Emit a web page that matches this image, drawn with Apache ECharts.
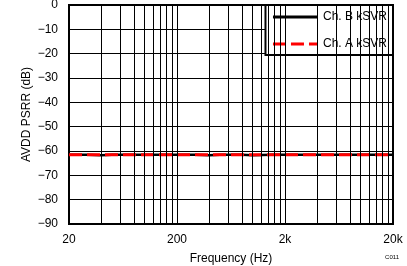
<!DOCTYPE html>
<html><head><meta charset="utf-8">
<script src="https://cdn.jsdelivr.net/npm/echarts@6/dist/echarts.min.js"></script>
<style>html,body{margin:0;padding:0;background:#fff}#c{width:407px;height:266px}</style>
</head><body><div id="c"></div>
<script>
var freqs = [20, 30, 40, 50, 60, 80, 100, 150, 200, 300, 400, 500, 600, 800, 1000, 1500, 2000, 3000, 4000, 5000, 6000, 8000, 10000, 15000, 20000];
var chB = [-61.5, -61.5, -61.7, -61.5, -61.5, -61.5, -61.5, -61.5, -61.5, -61.5, -61.7, -61.5, -61.5, -61.5, -61.7, -61.5, -61.5, -61.5, -61.5, -61.5, -61.5, -61.5, -61.5, -61.5, -61.5];
var chA = [-61.5, -61.5, -61.5, -61.5, -61.5, -61.5, -61.5, -61.5, -61.5, -61.5, -61.5, -61.5, -61.5, -61.5, -61.5, -61.5, -61.5, -61.5, -61.5, -61.5, -61.5, -61.5, -61.5, -61.5, -61.5];
var xTicks = [20, 200, 2000, 20000];
var xTickLabels = ['20', '200', '2k', '20k'];
var gridFreqs = [40, 60, 80, 100, 120, 140, 160, 180, 200, 400, 600, 800, 1000, 1200, 1400, 1600, 1800, 2000, 4000, 6000, 8000, 10000, 12000, 14000, 16000, 18000];
var seriesNames = ['Ch. B kSVR', 'Ch. A kSVR'];

var font = 'Liberation Sans, Arial, sans-serif';
var chart = echarts.init(document.getElementById('c'));
function pairs(vals){ return freqs.map(function(f,i){ return [f, vals[i]]; }); }
chart.setOption({
  animation: false,
  grid: {left: 69, right: 14, top: 5, bottom: 42, show: true, borderColor: '#000', borderWidth: 2,
    backgroundColor: 'transparent', outerBoundsMode: 'none', containLabel: false},
  xAxis: {
    type: 'log', logBase: 10, min: 20, max: 20000,
    name: 'Frequency (Hz)', nameLocation: 'middle', nameGap: 29, nameMoveOverlap: false,
    nameTextStyle: {fontFamily: font, fontSize: 12, color: '#000'},
    axisLine: {show: false}, axisTick: {show: false}, splitLine: {show: false},
    axisLabel: {
      customValues: xTicks, fontFamily: font, fontSize: 12, color: '#000', margin: 10,
      formatter: function(v){ var i = xTicks.indexOf(Math.round(v)); return i >= 0 ? xTickLabels[i] : ''; }
    }
  },
  yAxis: {
    type: 'value', min: -90, max: 0, interval: 10,
    name: 'AVDD PSRR (dB)', nameLocation: 'middle', nameGap: 36, nameMoveOverlap: false,
    nameTextStyle: {fontFamily: font, fontSize: 12, color: '#000'},
    axisLine: {show: false}, axisTick: {show: false},
    splitLine: {show: true, lineStyle: {color: '#000', width: 1}},
    axisLabel: {fontFamily: font, fontSize: 12, color: '#000', margin: 11,
      formatter: function(v){ return String(v).replace('-', '\u2212'); }}
  },
  legend: {
    orient: 'vertical', right: 14, top: 5,
    backgroundColor: '#fff', borderColor: '#000', borderWidth: 2, borderRadius: 0,
    padding: [6, 6, 5, 6], itemGap: 15, itemWidth: 45, itemHeight: 14,
    itemStyle: {opacity: 0}, lineStyle: {width: 3},
    textStyle: {fontFamily: font, fontSize: 12, color: '#000'},
    data: seriesNames
  },
  series: [
    {type: 'line', data: [], silent: true, z: 1,
      markLine: {silent: true, symbol: 'none', label: {show: false},
        lineStyle: {color: '#000', width: 1, type: 'solid'},
        data: gridFreqs.map(function(f){ return {xAxis: f}; })}},
    {name: seriesNames[0], type: 'line', data: pairs(chB), symbol: 'none', z: 3,
      lineStyle: {color: '#000', width: 2.5}, itemStyle: {color: '#000'}},
    {name: seriesNames[1], type: 'line', data: pairs(chA), symbol: 'none', z: 4,
      lineStyle: {color: '#ff0000', width: 3, type: [13, 5]}, itemStyle: {color: '#ff0000'}}
  ],
  graphic: [{type: 'text', right: 8, bottom: 6, style: {text: 'C011', fontFamily: font, fontSize: 6, fill: '#000'}}]
});
</script></body></html>
